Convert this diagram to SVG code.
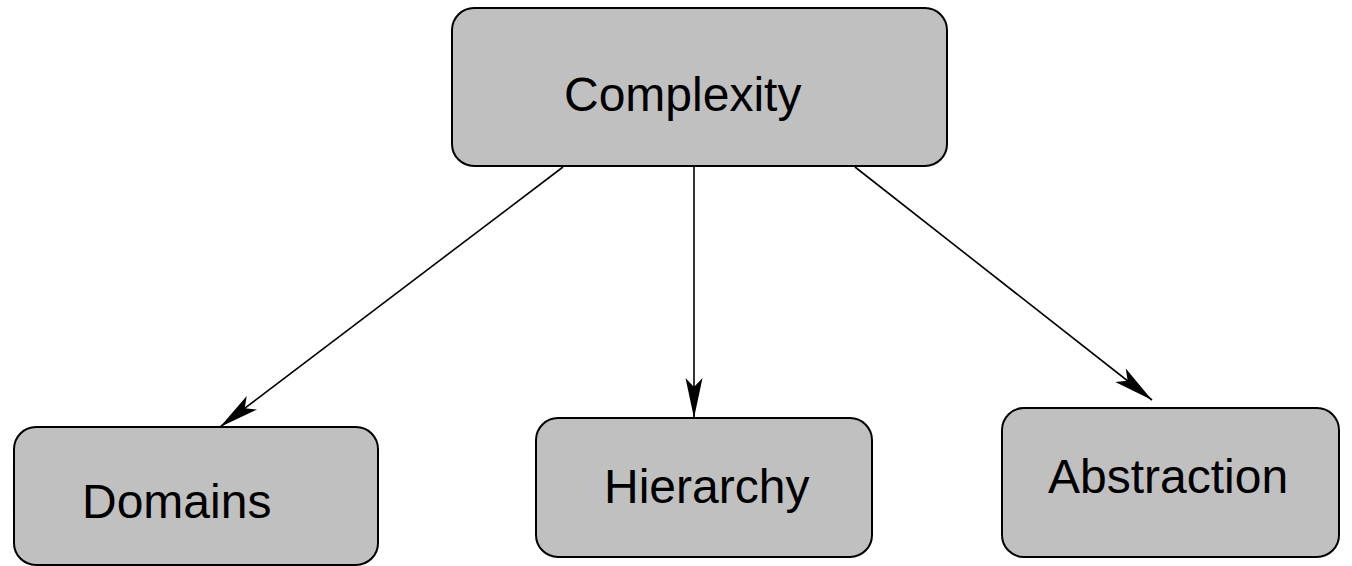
<svg xmlns="http://www.w3.org/2000/svg" width="1352" height="566" viewBox="0 0 1352 566">
  <style>
    .box { fill: #c0c0c0; stroke: #000; stroke-width: 2; }
    .label { font-family: "Liberation Sans", Arial, sans-serif; font-size: 48px; fill: #000; }
    .edge { stroke: #000; stroke-width: 1.6; fill: none; marker-end: url(#arrow); }
  </style>
  <defs>
    <marker id="arrow" markerUnits="userSpaceOnUse" markerWidth="44" markerHeight="20" viewBox="-42 -10 44 20" refX="0" refY="0" orient="auto">
      <path d="M0,0 L-40,-8.5 L-31,0 L-40,8.5 Z" fill="#000"/>
    </marker>
  </defs>

  <g id="connectors">
    <line class="edge" x1="563" y1="167" x2="220" y2="427"/>
    <line class="edge" x1="694" y1="167" x2="694" y2="418"/>
    <line class="edge" x1="855" y1="167" x2="1152" y2="400"/>
  </g>

  <g id="complexity">
    <rect class="box" x="452" y="8" width="495" height="158" rx="22" ry="22"/>
    <text class="label" x="564" y="111">Complexity</text>
  </g>

  <g id="domains">
    <rect class="box" x="14" y="427" width="364" height="138" rx="22" ry="22"/>
    <text class="label" x="82" y="518">Domains</text>
  </g>

  <g id="hierarchy">
    <rect class="box" x="536" y="418" width="336" height="139" rx="22" ry="22"/>
    <text class="label" x="604" y="503">Hierarchy</text>
  </g>

  <g id="abstraction">
    <rect class="box" x="1002" y="408" width="337" height="149" rx="22" ry="22"/>
    <text class="label" x="1048" y="493">Abstraction</text>
  </g>
</svg>
